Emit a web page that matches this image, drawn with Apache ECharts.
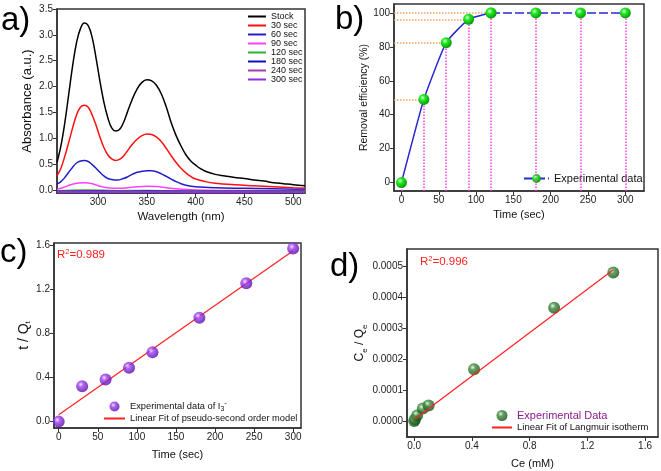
<!DOCTYPE html>
<html><head><meta charset="utf-8">
<script src="https://cdn.jsdelivr.net/npm/echarts@6/dist/echarts.min.js"></script>
<style>html,body{margin:0;padding:0;background:#fff}#c{width:661px;height:471px}</style>
</head><body><div id="c"></div>
<script>
// ---------- Panel a: UV-vis spectra ----------
const specStock = [[258,0.53],[262,0.85],[266,1.3],[270,1.85],[274,2.4],[278,2.85],[282,3.12],[286,3.23],[290,3.18],[294,2.95],[298,2.55],[302,2.1],[306,1.7],[310,1.4],[314,1.2],[318,1.14],[322,1.17],[326,1.3],[330,1.5],[335,1.75],[340,1.95],[345,2.08],[350,2.13],[355,2.11],[360,2.02],[365,1.85],[370,1.6],[375,1.3],[380,1.05],[385,0.85],[390,0.68],[395,0.56],[400,0.48],[405,0.41],[410,0.36],[420,0.3],[430,0.27],[440,0.24],[450,0.22],[460,0.19],[470,0.17],[480,0.14],[490,0.12],[500,0.1],[512,0.08]];
const spec30 = [[258,0.27],[262,0.42],[266,0.65],[270,0.92],[274,1.2],[278,1.45],[282,1.6],[286,1.64],[290,1.6],[294,1.45],[298,1.25],[302,1.02],[306,0.82],[310,0.68],[314,0.6],[318,0.57],[322,0.59],[326,0.65],[330,0.75],[335,0.88],[340,0.98],[345,1.05],[350,1.08],[355,1.07],[360,1.02],[365,0.93],[370,0.8],[375,0.66],[380,0.53],[385,0.42],[390,0.33],[395,0.26],[400,0.21],[410,0.16],[420,0.13],[440,0.1],[460,0.08],[480,0.06],[500,0.04],[512,0.03]];
const spec60 = [[258,0.11],[262,0.16],[266,0.24],[270,0.34],[274,0.44],[278,0.52],[282,0.56],[286,0.57],[290,0.55],[294,0.49],[298,0.42],[302,0.34],[306,0.27],[310,0.22],[314,0.2],[320,0.19],[326,0.22],[330,0.25],[335,0.3],[340,0.34],[345,0.36],[350,0.37],[355,0.37],[360,0.35],[365,0.31],[370,0.26],[375,0.21],[380,0.16],[385,0.12],[390,0.09],[400,0.06],[420,0.04],[450,0.03],[480,0.02],[512,0.01]];
const spec90 = [[258,0.01],[265,0.05],[272,0.1],[280,0.135],[287,0.14],[294,0.12],[302,0.07],[310,0.04],[320,0.03],[330,0.04],[340,0.06],[350,0.07],[360,0.065],[370,0.04],[380,0.02],[400,0.0],[450,-0.01],[512,-0.01]];
const spec120 = [[258,-0.02],[287,-0.008],[320,-0.02],[350,-0.015],[400,-0.025],[512,-0.02]];
const spec180 = [[258,-0.03],[287,-0.025],[320,-0.032],[350,-0.028],[400,-0.033],[512,-0.03]];
const spec240 = [[258,-0.036],[287,-0.033],[320,-0.037],[350,-0.035],[400,-0.038],[512,-0.036]];
const spec300 = [[258,-0.042],[287,-0.04],[320,-0.043],[350,-0.041],[400,-0.044],[512,-0.042]];
const specNames = ['Stock','30 sec','60 sec','90 sec','120 sec','180 sec','240 sec','300 sec'];
const specColors = ['#000000','#ff1010','#2020c8','#ff40ff','#30b030','#1010c0','#a040a8','#9030e0'];
const aXTicks = [300,350,400,450,500];
const aYTicks = [0,0.5,1,1.5,2,2.5,3,3.5];

// ---------- Panel b: removal efficiency ----------
const bTime = [0,30,60,90,120,180,240,300];
const bEff = [0,49,82.5,96.3,100,100,100,100];
const bXTicks = [0,50,100,150,200,250,300];
const bYTicks = [0,20,40,60,80,100];

// ---------- Panel c: pseudo-second order ----------
const cTime = [0,30,60,90,120,180,240,300];
const cTQ = [0.0,0.322,0.383,0.49,0.63,0.946,1.259,1.576];
const cFitX = [0,300];
const cFitY = [0.062,1.555];
const cXTicks = [0,50,100,150,200,250,300];
const cYTicks = [0,0.4,0.8,1.2,1.6];

// ---------- Panel d: Langmuir ----------
const dCe = [0,0.005,0.02,0.06,0.1,0.415,0.97,1.38];
const dCQ = [0,0.000005,0.000018,0.00004,0.00005,0.000167,0.000365,0.000478];
const dFitX = [0,1.38];
const dFitY = [0.000005,0.000487];
const dXTicks = [0,0.4,0.8,1.2,1.6];
const dYTicks = [0,0.0001,0.0002,0.0003,0.0004,0.0005];

const FONT = 'Liberation Sans, Arial, sans-serif';
const AX = '#333';

function axis(gi, min, max, ticks, fmt, name, gap, nsize, rich) {
  return {
    type: 'value', gridIndex: gi, min: min, max: max,
    name: name, nameLocation: 'middle', nameGap: gap,
    nameTextStyle: {fontFamily: FONT, fontSize: nsize, color: '#111', rich: rich || {}},
    axisLine: {show: true, onZero: false, lineStyle: {color: AX, width: 1.5}},
    axisTick: {show: true, inside: false, length: 4, customValues: ticks, lineStyle: {color: AX, width: 1}},
    axisLabel: {show: true, customValues: ticks, formatter: fmt, fontFamily: FONT, fontSize: 10, color: '#222', margin: 4},
    splitLine: {show: false}
  };
}
const sub = {fontSize: 8, fontFamily: FONT, padding: [9, 0, 0, 0]};
function sphere(light, mid, dark) {
  return {type: 'radial', x: 0.38, y: 0.35, r: 0.65,
    colorStops: [{offset: 0, color: light}, {offset: 0.35, color: mid}, {offset: 1, color: dark}]};
}
const grid = (l, t, w, h) => ({left: l, top: t, width: w, height: h, show: true, borderColor: AX, borderWidth: 1.5, backgroundColor: 'transparent'});
const noSym = {opacity: 0};

const specData = [specStock, spec30, spec60, spec90, spec120, spec180, spec240, spec300];
const series = [];
specData.forEach((d, i) => {
  series.push({type: 'line', name: specNames[i], xAxisIndex: 0, yAxisIndex: 0, data: d,
    smooth: 0.4, symbol: 'none', lineStyle: {color: specColors[i], width: i < 4 ? 1.5 : 2}, itemStyle: {color: specColors[i]}});
});

const bGreen = sphere('#eaffea', '#22ee22', '#0a9a0a');
const bMarkV = bTime.map((t, i) => [{coord: [t, -5]}, {coord: [t, bEff[i]]}]);
const bMarkH = bTime.filter((t, i) => i > 0 && i <= 4).map((t, k) => [{coord: [-10, bEff[k + 1]]}, {coord: [t, bEff[k + 1]]}]);
series.push({type: 'line', name: 'Experimental data', xAxisIndex: 1, yAxisIndex: 1,
  data: bTime.slice(4).map((t, i) => [t, bEff[i + 4]]), symbol: 'circle', symbolSize: 11,
  lineStyle: {color: '#2a2ad0', width: 1.5, type: [9, 3]}, itemStyle: {color: bGreen}, z: 5,
  markLine: {silent: true, symbol: 'none', animation: false, label: {show: false},
    data: bMarkV.map(p => [{...p[0], lineStyle: {color: '#ff40e0', type: 'dotted', width: 1.5}}, p[1]])
      .concat(bMarkH.map(p => [{...p[0], lineStyle: {color: '#f4a060', type: 'dotted', width: 1.5}}, p[1]]))}
});
series.push({type: 'line', name: 'Experimental data', xAxisIndex: 1, yAxisIndex: 1,
  data: bTime.slice(0, 5).map((t, i) => [t, bEff[i]]), smooth: 0.15, symbol: 'circle', symbolSize: 11,
  lineStyle: {color: '#2a2ad0', width: 1.5}, itemStyle: {color: bGreen}, z: 6});

series.push({type: 'line', name: 'Linear Fit of pseudo-second order model', xAxisIndex: 2, yAxisIndex: 2,
  data: cFitX.map((x, i) => [x, cFitY[i]]), symbol: 'none', lineStyle: {color: '#ff2020', width: 1.2}, itemStyle: {color: '#ff2020'}, z: 3});
series.push({type: 'scatter', name: 'Experimental data of I3-', xAxisIndex: 2, yAxisIndex: 2,
  data: cTime.map((t, i) => [t, cTQ[i]]), symbolSize: 12,
  itemStyle: {color: sphere('#f0ddff', '#9a3cf0', '#5a0ca8')}, z: 4});

series.push({type: 'line', name: 'Linear Fit of Langmuir isotherm', xAxisIndex: 3, yAxisIndex: 3,
  data: dFitX.map((x, i) => [x, dFitY[i]]), symbol: 'none', lineStyle: {color: '#ff2020', width: 1.2}, itemStyle: {color: '#ff2020'}, z: 5});
series.push({type: 'scatter', name: 'Experimental Data', xAxisIndex: 3, yAxisIndex: 3,
  data: dCe.map((x, i) => [x, dCQ[i]]), symbolSize: 12,
  itemStyle: {color: sphere('#e4f5e4', '#3c8c3c', '#1a4f1a')}, z: 4});

const option = {
  animation: false,
  backgroundColor: '#fff',
  textStyle: {fontFamily: FONT},
  grid: [grid(57, 9, 248, 184), grid(394, 4, 250, 187), grid(54, 243, 247, 185), grid(407, 249, 251, 188)],
  xAxis: [
    axis(0, 258, 512, aXTicks, v => v.toFixed(0), 'Wavelength (nm)', 18, 11.5),
    axis(1, -10, 325, bXTicks, v => v.toFixed(0), 'Time (sec)', 18, 11),
    axis(2, -6, 310, cXTicks, v => v.toFixed(0), 'Time (sec)', 21, 11),
    axis(3, -0.05, 1.69, dXTicks, v => v.toFixed(1), 'Ce (mM)', 21, 11)
  ],
  yAxis: [
    axis(0, -0.06, 3.5, aYTicks, v => v.toFixed(1), 'Absorbance (a.u.)', 23, 13),
    axis(1, -5, 105.3, bYTicks, v => v.toFixed(0), 'Removal efficiency (%)', 24, 10.5),
    axis(2, -0.058, 1.625, cYTicks, v => v.toFixed(1), 't / Q{s|t}', 15, 14, {s: sub}),
    axis(3, -0.0000516, 0.000554, dYTicks, v => v.toFixed(4), 'C{s|e} / Q{s|e}', 35, 12, {s: sub})
  ],
  legend: [
    {data: specNames.map(n => ({name: n, itemStyle: noSym})), orient: 'vertical', left: 242, top: 7,
     itemWidth: 18, itemHeight: 10.8, itemGap: 0,
     textStyle: {fontFamily: FONT, fontSize: 9, color: '#111'}, selectedMode: false},
    {data: ['Experimental data'], left: 518, top: 168, itemWidth: 25, itemHeight: 11,
     textStyle: {fontFamily: FONT, fontSize: 11, color: '#111'}, selectedMode: false},
    {data: [{name: 'Experimental data of I3-', icon: 'circle'}, {name: 'Linear Fit of pseudo-second order model', itemStyle: noSym}],
     orient: 'vertical', left: 98, top: 394, itemWidth: 21, itemHeight: 10, itemGap: 1,
     formatter: n => n === 'Experimental data of I3-' ? 'Experimental data of I{s|3}{p|-}' : n,
     textStyle: {fontFamily: FONT, fontSize: 9.3, color: '#111',
       rich: {s: {fontSize: 7, padding: [6, 0, 0, 0]}, p: {fontSize: 8, padding: [0, 0, 7, 0]}}}, selectedMode: false},
    {data: [{name: 'Experimental Data', icon: 'circle', textStyle: {color: '#8b1a8a', fontSize: 11}},
            {name: 'Linear Fit of Langmuir isotherm', itemStyle: noSym}],
     orient: 'vertical', left: 486, top: 405, itemWidth: 20, itemHeight: 11, itemGap: 1.5,
     textStyle: {fontFamily: FONT, fontSize: 9.5, color: '#111'}, selectedMode: false}
  ],
  graphic: [
    {type: 'text', left: 1, top: 4, style: {text: 'a)', font: '33px ' + FONT, fill: '#000'}},
    {type: 'text', left: 335, top: 3, style: {text: 'b)', font: '33px ' + FONT, fill: '#000'}},
    {type: 'text', left: 0, top: 236, style: {text: 'c)', font: '33px ' + FONT, fill: '#000'}},
    {type: 'text', left: 330, top: 250, style: {text: 'd)', font: '33px ' + FONT, fill: '#000'}},
    {type: 'text', left: 57, top: 248, style: {text: 'R{p|2}=0.989', font: '11.5px ' + FONT, fill: '#ff2020',
      rich: {p: {fontSize: 7.5, fill: '#ff2020', padding: [0, 0, 6, 0]}}}},
    {type: 'text', left: 420, top: 255, style: {text: 'R{p|2}=0.996', font: '11.5px ' + FONT, fill: '#ff2020',
      rich: {p: {fontSize: 7.5, fill: '#ff2020', padding: [0, 0, 6, 0]}}}}
  ],
  series: series
};
const chart = echarts.init(document.getElementById('c'), null, {renderer: 'canvas'});
chart.setOption(option);
</script></body></html>
